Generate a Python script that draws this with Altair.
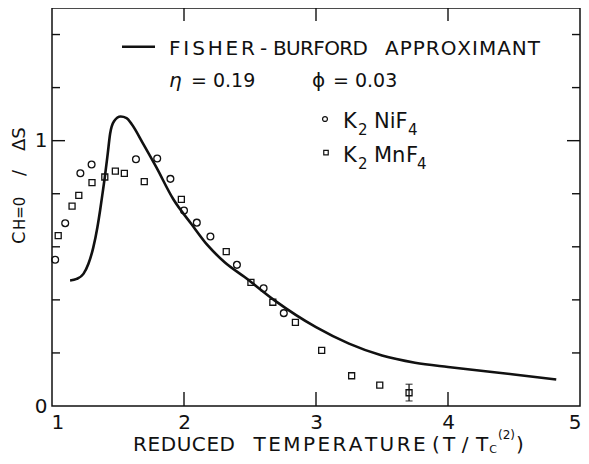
import altair as alt
import pandas as pd

# ---- data ----
curve_x = [1.137, 1.187, 1.238, 1.276, 1.313, 1.344, 1.364, 1.384, 1.40, 1.422, 1.44, 1.47,
           1.52, 1.565, 1.603, 1.691, 1.79, 1.918, 2.056, 2.18, 2.308, 2.459, 2.686,
           3.0, 3.25, 3.5, 3.75, 4.0, 4.25, 4.5, 4.82]
curve_y = [0.473, 0.479, 0.498, 0.536, 0.598, 0.674, 0.736, 0.805, 0.862, 0.95, 1.025, 1.073,
           1.091, 1.085, 1.063, 0.988, 0.90, 0.78, 0.686, 0.605, 0.542, 0.486, 0.398,
           0.297, 0.235, 0.19, 0.163, 0.147, 0.133, 0.119, 0.10]

ni_x = [1.024, 1.10, 1.215, 1.30, 1.636, 1.797, 1.897, 2.0, 2.097, 2.20, 2.401, 2.603, 2.756]
ni_y = [0.551, 0.689, 0.877, 0.910, 0.930, 0.933, 0.856, 0.737, 0.691, 0.639, 0.532, 0.444, 0.350]

mn_x = [1.047, 1.152, 1.203, 1.303, 1.40, 1.48, 1.548, 1.699, 1.98, 2.32, 2.507, 2.673,
        2.844, 3.043, 3.27, 3.483, 3.705]
mn_y = [0.642, 0.753, 0.794, 0.842, 0.863, 0.885, 0.877, 0.846, 0.779, 0.582, 0.466, 0.391,
        0.315, 0.21, 0.114, 0.079, 0.050]

err_x = [3.705]
err_lo = [0.019]
err_hi = [0.082]

x_labels = [1, 2, 3, 4, 5]
y_labels = [0, 1]
x_ticks = [2, 3, 4]
y_minor = [0.2, 0.4, 0.6, 0.8, 1.2, 1.4]
y_major = [1.0]

# ---- styling ----
W, H = 528, 398
OX, OY = 52, 8          # page position of the plot origin (for annotation placement)
INK = "#111111"
FONT = "DejaVu Sans"

# approximate DejaVu Sans advance widths (em) used to letter-space the captions
EM = {"A": .684, "B": .686, "C": .698, "D": .770, "E": .632, "F": .575, "G": .775, "H": .752,
      "I": .295, "K": .656, "L": .557, "M": .863, "N": .748, "O": .787, "P": .603, "R": .695,
      "S": .635, "T": .611, "U": .732, "X": .685, " ": .318, "-": .361, "(": .390, ")": .390,
      "/": .337}

xs = alt.Scale(domain=[1, 5], nice=False, zero=False)
ys = alt.Scale(domain=[0, 1.5], nice=False, zero=False)

X = alt.X("x:Q", scale=xs, axis=alt.Axis(values=x_labels, ticks=False, domain=False, grid=False,
                                         labelFontSize=20, labelFont=FONT, labelColor=INK,
                                         labelPadding=6, labelFlush=True, labelFlushOffset=1,
                                         title=None, format="d"))
Y = alt.Y("y:Q", scale=ys, axis=alt.Axis(values=y_labels, ticks=False, domain=False, grid=False,
                                         labelFontSize=20, labelFont=FONT, labelColor=INK,
                                         labelPadding=5, labelFlush=False, title=None, format="d"))

one = pd.DataFrame({"k": [0]})

curve = alt.Chart(pd.DataFrame({"x": curve_x, "y": curve_y})).mark_line(
    color=INK, strokeWidth=2.6, interpolate="monotone").encode(x=X, y=Y)

ni = alt.Chart(pd.DataFrame({"x": ni_x, "y": ni_y})).mark_point(
    shape="circle", filled=False, size=46, strokeWidth=1.3, color=INK, opacity=1).encode(x=X, y=Y)

mn = alt.Chart(pd.DataFrame({"x": mn_x, "y": mn_y})).mark_point(
    shape="square", filled=False, size=36, strokeWidth=1.3, color=INK, opacity=1).encode(x=X, y=Y)

err_df = pd.DataFrame({"x": err_x, "y": err_lo, "y2": err_hi})
err = alt.Chart(err_df).mark_rule(color=INK, strokeWidth=1.3).encode(x=X, y=Y, y2="y2:Q")
cap_lo = alt.Chart(pd.DataFrame({"x": err_x, "y": err_lo})).mark_tick(
    color=INK, orient="horizontal", size=7, thickness=1.3).encode(x=X, y=Y)
cap_hi = alt.Chart(pd.DataFrame({"x": err_x, "y": err_hi})).mark_tick(
    color=INK, orient="horizontal", size=7, thickness=1.3).encode(x=X, y=Y)

# inward ticks
xt = pd.DataFrame({"x": x_ticks})
bot_ticks = alt.Chart(xt).mark_rule(color=INK, strokeWidth=1.4).encode(
    x=X, y=alt.value(H), y2=alt.value(H - 14))
top_ticks = alt.Chart(xt).mark_rule(color=INK, strokeWidth=1.4).encode(
    x=X, y=alt.value(0), y2=alt.value(13))
ym = pd.DataFrame({"y": y_minor})
yM = pd.DataFrame({"y": y_major})
left_minor = alt.Chart(ym).mark_rule(color=INK, strokeWidth=1.4).encode(
    y=Y, x=alt.value(0), x2=alt.value(8))
left_major = alt.Chart(yM).mark_rule(color=INK, strokeWidth=1.4).encode(
    y=Y, x=alt.value(0), x2=alt.value(13))
right_minor = alt.Chart(ym).mark_rule(color=INK, strokeWidth=1.4).encode(
    y=Y, x=alt.value(W), x2=alt.value(W - 8))
right_major = alt.Chart(yM).mark_rule(color=INK, strokeWidth=1.4).encode(
    y=Y, x=alt.value(W), x2=alt.value(W - 13))


def txt(s, px, py, size=20, align="left", angle=0, style="normal"):
    """Text placed at page coordinates (px, py)."""
    kw = dict(text=s, font=FONT, fontSize=size, color=INK, align=align,
              baseline="alphabetic", fontStyle=style)
    if angle:
        kw["angle"] = angle
    return alt.Chart(one).mark_text(**kw).encode(x=alt.value(px - OX), y=alt.value(py - OY))


def spaced(s, x0, x1, py, size=20):
    """Letter-spaced caption spanning page x0..x1 (mimics the wide lettering)."""
    widths = [EM.get(c, .65) * size for c in s]
    extra = (x1 - x0 - sum(widths)) / max(len(s) - 1, 1)
    out, pos = [], x0
    for c, w in zip(s, widths):
        if c != " ":
            out.append(txt(c, pos, py, size))
        pos += w + extra
    return out


texts = []
# legend / annotation
texts += spaced("FISHER", 169, 255, 55, 20)
texts += [txt("-", 263.5, 55, 20, "center")]
texts += spaced("BURFORD", 273, 368, 55, 20)
texts += spaced("APPROXIMANT", 385, 540, 55, 20)
texts += [
    txt("η", 169, 87, 20, style="italic"),
    txt("= 0.19", 191, 87, 19),
    txt("ϕ", 312, 87, 20),
    txt("= 0.03", 333, 87, 19),
    txt("K", 343, 128, 21), txt("2", 358, 135, 15), txt("NiF", 374, 128, 21), txt("4", 408, 135, 15),
    txt("K", 343, 162, 21), txt("2", 358, 169, 15), txt("Mn", 374, 162, 21), txt("F", 406, 162, 21),
    txt("4", 417, 169, 15),
]
# x title
texts += spaced("REDUCED", 133, 235, 451, 20)
texts += spaced("TEMPERATURE", 253.5, 425.6, 451, 20)
texts += [
    txt("(", 436, 451, 20, "center"),
    txt("T", 449, 451, 20, "center"),
    txt("/", 465, 451, 20, "center"),
    txt("T", 482, 451, 20, "center"),
    txt("C", 493, 453, 11, "center"),
    txt("(2)", 498, 439, 12, "left"),
    txt(")", 520, 451, 20, "center"),
]
# y title (rotated)
texts += [
    txt("C", 25, 244, 18, "left", 270),
    txt("H=0", 25, 230, 15, "left", 270),
    txt("/", 25, 176, 18, "left", 270),
    txt("ΔS", 25, 151, 18, "left", 270),
]

leg_line = alt.Chart(one).mark_rule(color=INK, strokeWidth=2.6).encode(
    x=alt.value(122 - OX), x2=alt.value(155 - OX), y=alt.value(46.7 - OY))
leg_circ = alt.Chart(one).mark_point(shape="circle", filled=False, size=24, strokeWidth=1.2,
                                     color=INK, opacity=1).encode(
    x=alt.value(325 - OX), y=alt.value(119 - OY))
leg_sq = alt.Chart(one).mark_point(shape="square", filled=False, size=20, strokeWidth=1.2,
                                   color=INK, opacity=1).encode(
    x=alt.value(326 - OX), y=alt.value(152.7 - OY))

chart = alt.layer(
    curve, ni, mn, err, cap_lo, cap_hi,
    bot_ticks, top_ticks, left_minor, left_major, right_minor, right_major,
    leg_line, leg_circ, leg_sq, *texts
).properties(
    width=W, height=H,
    padding={"left": OX - 8, "top": OY - 8, "right": 1, "bottom": 50},
    autosize=alt.AutoSizeParams(type="none"),
    background="white",
).configure_view(stroke=INK, strokeWidth=1.5)

chart.save("out.html", embed_options={"renderer": "svg", "actions": False})
